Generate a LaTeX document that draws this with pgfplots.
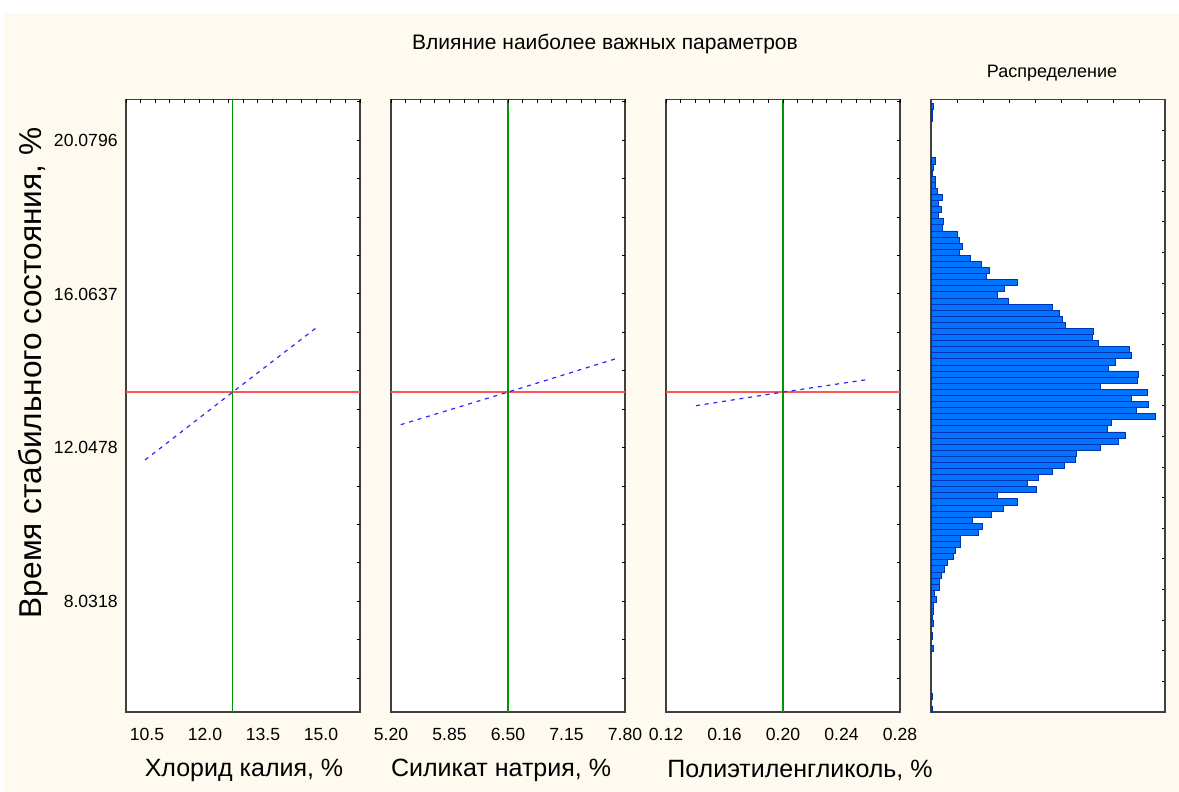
\documentclass[border=0pt]{standalone}
\usepackage{fontspec}
\setmainfont{Liberation Sans}
\usepackage{pgfplots}
\pgfplotsset{compat=1.18}
\usepackage{pgfplotstable}

\definecolor{bg}{RGB}{255,250,240}
\definecolor{redl}{RGB}{255,85,85}
\definecolor{greenl}{RGB}{0,150,0}
\definecolor{bluel}{RGB}{40,40,255}
\definecolor{barfill}{RGB}{0,115,255}
\definecolor{barline}{RGB}{0,50,180}

\pgfplotstableread{
y len
5.2426 1
5.5602 1
6.8306 2
7.1482 1
7.4658 2
7.6246 1
7.7834 2
7.9422 2
8.1010 5
8.2598 3
8.4186 8
8.5774 8
8.7362 10
8.8950 13
9.0538 16
9.2126 22
9.3714 24
9.5302 29
9.6890 29
9.8478 47
10.0066 51
10.1654 41
10.3242 60
10.4830 72
10.6418 86
10.8006 66
10.9594 105
11.1182 96
11.2770 107
11.4358 121
11.5946 133
11.7534 144
11.9122 145
12.0710 169
12.2298 187
12.3886 194
12.5474 176
12.7062 180
12.8650 224
13.0238 205
13.1826 217
13.3414 200
13.5002 216
13.6590 169
13.8178 206
13.9766 207
14.1354 177
14.2942 184
14.4530 200
14.6118 198
14.7706 167
14.9294 161
15.0882 162
15.2470 134
15.4058 131
15.5646 128
15.7234 121
15.8822 77
16.0410 66
16.1998 73
16.3586 86
16.5174 55
16.6762 58
16.8350 50
16.9938 39
17.1526 28
17.3114 31
17.4702 28
17.6290 26
17.7878 11
17.9466 12
18.1054 7
18.2642 10
18.4230 7
18.5818 11
18.7406 6
18.8994 4
19.0582 4
19.2170 1
19.3758 2
19.5346 4
20.6462 1
20.8050 1
20.9638 2
}\histdata

\newcommand{\tickfont}{\fontsize{8.8}{10}\selectfont}

\pgfplotsset{
  panel/.style={
    scale only axis, width=117pt, height=306.25pt, anchor=north west,
    axis background/.style={fill=white},
    axis line style={draw=black!75, line width=0.9pt},
    ymin=5.138, ymax=21.147,
    major tick length=0pt,
    xtick pos=left, ytick pos=left,
    xticklabel style={font=\tickfont, inner sep=0pt, anchor=north, yshift=-8pt},
    yticklabel style={font=\tickfont, inner sep=0pt, anchor=east, xshift=-4pt},
  },
  ticksonly/.style={
    scale only axis, width=117pt, height=306.25pt, anchor=north west,
    axis line style={draw=none},
    xmin=0, xmax=16, xtick={0,...,16}, xtick pos=right,
    ymin=5.138, ymax=21.147,
    ytick={6.0238,7.0278,8.0318,9.0358,10.0398,11.0438,12.0478,13.0518,14.0558,15.0597,16.0637,17.0677,18.0717,19.0757,20.0796,21.0836},
    ytick pos=right, tick align=inside,
    xticklabels={}, yticklabels={},
    major tick length=1.6pt, tick style={black, line width=0.5pt},
  },
}

\begin{document}
\begin{tikzpicture}
\fill[white] (0,0) rectangle (589.5pt,-396pt);
\fill[bg] (2pt,-6.5pt) rectangle (589.5pt,-396pt);

% Panel 1
\begin{axis}[panel, at={(63pt,-49.75pt)},
  xmin=9.957, xmax=16.008,
  xtick={10.5,12,13.5,15}, xticklabels={10.5,12.0,13.5,15.0},
  ytick={8.0318,12.0478,16.0637,20.0796}, yticklabels={8.0318,12.0478,16.0637,20.0796}]
\addplot[redl, line width=1.1pt] coordinates {(9.957,13.50) (16.008,13.50)};
\addplot[greenl, line width=0.6pt] coordinates {(12.716,5.138) (12.716,21.147)};
\addplot[bluel, dash pattern=on 2pt off 2.4pt, line width=0.6pt] coordinates {(10.45,11.725) (12.716,13.50) (14.87,15.175)};
\end{axis}
\begin{axis}[ticksonly, at={(63pt,-49.75pt)}]
\end{axis}

% Panel 2
\begin{axis}[panel, at={(195.5pt,-49.75pt)},
  xmin=5.2, xmax=7.8,
  xtick={5.2,5.85,6.5,7.15,7.8}, xticklabels={5.20,5.85,6.50,7.15,7.80},
  ytick=\empty]
\addplot[redl, line width=1.1pt] coordinates {(5.2,13.50) (7.8,13.50)};
\addplot[greenl, line width=0.6pt] coordinates {(6.5,5.138) (6.5,21.147)};
\addplot[bluel, dash pattern=on 2pt off 2.4pt, line width=0.6pt] coordinates {(5.308,12.648) (6.5,13.50) (7.689,14.365)};
\end{axis}
\begin{axis}[ticksonly, at={(195.5pt,-49.75pt)}]
\end{axis}

% Panel 3
\begin{axis}[panel, at={(333pt,-49.75pt)},
  xmin=0.12, xmax=0.28,
  xtick={0.12,0.16,0.20,0.24,0.28}, xticklabels={0.12,0.16,0.20,0.24,0.28},
  ytick=\empty]
\addplot[redl, line width=1.1pt] coordinates {(0.12,13.50) (0.28,13.50)};
\addplot[greenl, line width=0.6pt] coordinates {(0.20,5.138) (0.20,21.147)};
\addplot[bluel, dash pattern=on 2pt off 2.4pt, line width=0.6pt] coordinates {(0.1405,13.144) (0.20,13.50) (0.2572,13.824)};
\end{axis}
\begin{axis}[ticksonly, at={(333pt,-49.75pt)}]
\end{axis}

% Panel 4: distribution
\begin{axis}[scale only axis, width=117pt, height=306.25pt, anchor=north west,
  at={(465.5pt,-49.75pt)},
  axis background/.style={fill=white},
  axis line style={draw=black!75, line width=0.9pt},
  xmin=0, xmax=234, ymin=5.1643, ymax=21.1354,
  xtick={0,26,52,78,104,130,156,182,208,234}, xtick pos=right,
  ytick={5.1643,5.9629,6.7614,7.5600,8.3585,9.1571,9.9556,10.7542,11.5527,12.3513,13.1499,13.9484,14.7470,15.5455,16.3441,17.1426,17.9412,18.7397,19.5383,20.3368,21.1354},
  ytick pos=right, tick align=inside,
  xticklabels={}, yticklabels={},
  major tick length=1.6pt, tick style={black, line width=0.5pt}]
\addplot[xbar, bar width=0.1588, bar shift=0pt, fill=barfill, draw=barline, line width=0.4pt] table[x=len, y=y] {\histdata};
\end{axis}

% Texts
\node[font=\fontsize{10.5}{12}\selectfont] at (302.5pt,-22pt) {Влияние наиболее важных параметров};
\node[font=\fontsize{9}{11}\selectfont] at (526pt,-36.5pt) {Распределение};
\node[rotate=90, font=\fontsize{15.8}{18}\selectfont] at (16.5pt,-186.5pt) {Время стабильного состояния, \%};
\node[font=\fontsize{12.5}{15}\selectfont] at (122pt,-385pt) {Хлорид калия, \%};
\node[font=\fontsize{12.5}{15}\selectfont] at (250.5pt,-385pt) {Силикат натрия, \%};
\node[font=\fontsize{12.5}{15}\selectfont] at (400pt,-385pt) {Полиэтиленгликоль, \%};
\end{tikzpicture}
\end{document}
